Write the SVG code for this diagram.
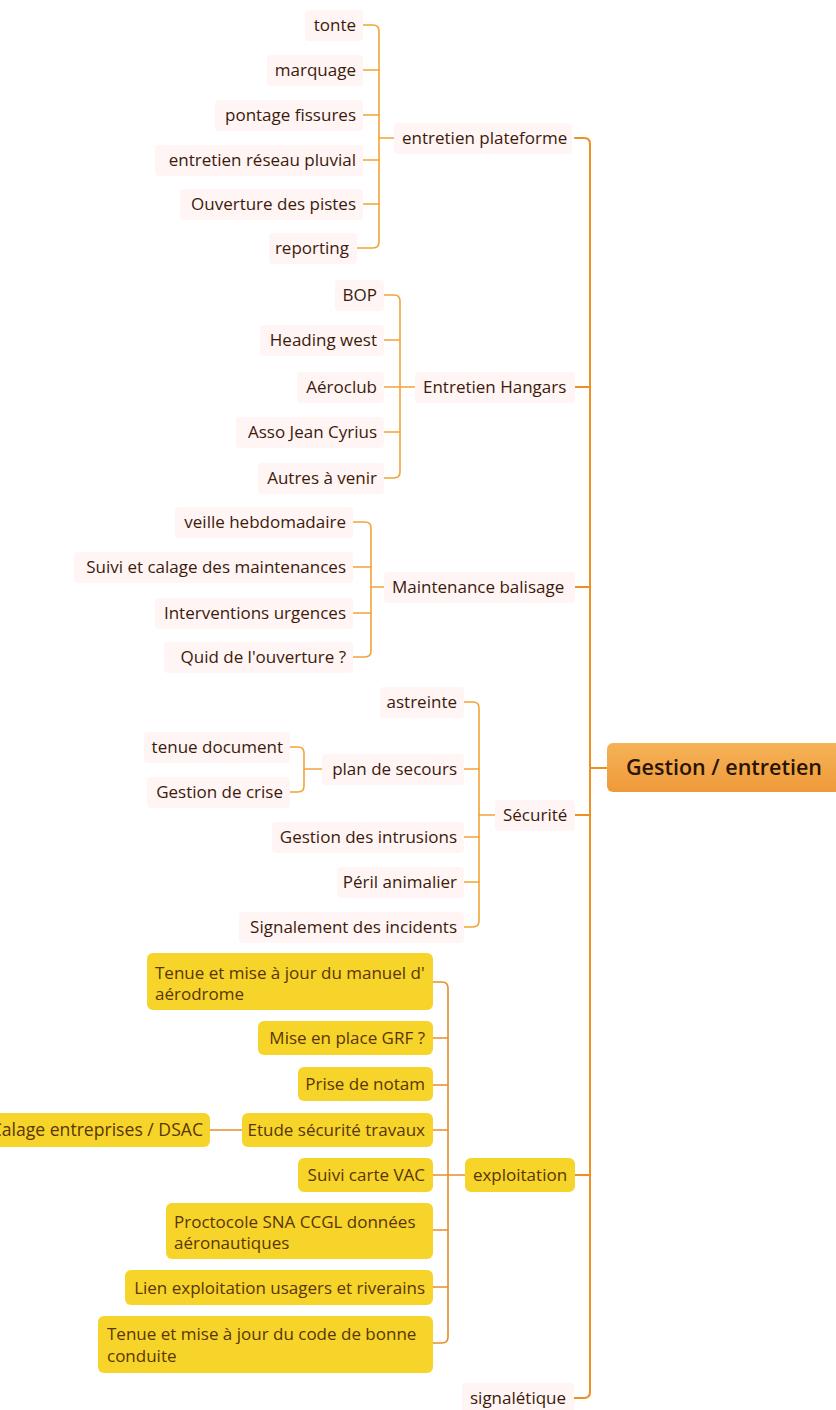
<svg xmlns="http://www.w3.org/2000/svg" width="836" height="1410" viewBox="0 0 836 1410">
<defs>
<linearGradient id="rootg" x1="0" y1="0" x2="0" y2="1">
<stop offset="0" stop-color="#f6b257"/>
<stop offset="1" stop-color="#ee9a3a"/>
</linearGradient>
<style>
.t{font-family:"Open Sans","Noto Sans","Liberation Sans",sans-serif;font-size:17px;fill:#3d1a0c}
.r{text-anchor:end}
.y{font-family:"Open Sans","Noto Sans","Liberation Sans",sans-serif;font-size:17px;fill:#5a3606}
.bg{fill:#fef5f4}
.yb{fill:#f6d42a}
.c{fill:none;stroke:#f2a437;stroke-width:1.6;stroke-linecap:round}
.ce{fill:none;stroke:#e98d2c;stroke-width:1.6;stroke-linecap:round}
.tr{fill:none;stroke:#ef8e22;stroke-width:2;stroke-linecap:round}
.root{font-family:"Open Sans","Noto Sans","Liberation Sans",sans-serif;font-size:21.5px;font-weight:600;fill:#2a1405;text-anchor:middle}
</style>
</defs>
<rect width="836" height="1410" fill="#ffffff"/>

<g id="connectors">
<path class="tr" d="M575,138 H584 Q590,138 590,144 V1392 Q590,1398 584,1398 H573"/>
<path class="tr" d="M574,387 H590 M574,587 H590 M573,815 H590 M575,1175 H590 M590,768 H607"/>
<path class="c" d="M362,25 H373 Q379,25 379,31 V242 Q379,248 373,248 H356"/>
<path class="c" d="M362,70 H379 M362,115 H379 M362,160 H379 M362,204 H379 M379,138 H397"/>
<path class="c" d="M384,295 H394 Q400,295 400,301 V472 Q400,478 394,478 H384"/>
<path class="c" d="M384,340 H400 M384,387 H417 M384,432 H400"/>
<path class="c" d="M352,522 H365 Q371,522 371,528 V651 Q371,657 365,657 H352"/>
<path class="c" d="M352,567 H371 M352,613 H371 M371,587 H387"/>
<path class="c" d="M463,702 H473 Q479,702 479,708 V921 Q479,927 473,927 H463"/>
<path class="c" d="M463,769 H479 M463,837 H479 M463,882 H479 M479,815 H496"/>
<path class="c" d="M289,747 H298 Q304,747 304,753 V786 Q304,792 298,792 H289"/>
<path class="c" d="M304,769 H325"/>
<path class="ce" d="M433,982 H442 Q448,982 448,988 V1337 Q448,1343 442,1343 H433"/>
<path class="ce" d="M433,1038 H448 M433,1085 H448 M433,1130 H448 M433,1175 H465 M433,1230 H448 M433,1287 H448 M210,1130 H242"/>
</g>

<g id="root">
<rect x="607" y="743" width="240" height="49" rx="6" fill="url(#rootg)"/>
<text class="root" x="724" y="775">Gestion / entretien</text>
</g>

<g id="n-entretien-plateforme">
<rect class="bg" x="394" y="123" width="178" height="31" rx="4"/>
<text class="t" x="402" y="144">entretien plateforme</text>
</g>
<g id="n-tonte"><rect class="bg" x="305" y="10" width="58" height="31" rx="4"/><text class="t r" x="356" y="31">tonte</text></g>
<g id="n-marquage"><rect class="bg" x="267" y="55" width="96" height="31" rx="4"/><text class="t r" x="356" y="76">marquage</text></g>
<g id="n-pontage"><rect class="bg" x="215" y="100" width="148" height="31" rx="4"/><text class="t r" x="356" y="121">pontage fissures</text></g>
<g id="n-reseau"><rect class="bg" x="155" y="145" width="208" height="31" rx="4"/><text class="t r" x="356" y="166">entretien réseau pluvial</text></g>
<g id="n-ouverture"><rect class="bg" x="180" y="189" width="183" height="31" rx="4"/><text class="t r" x="356" y="210">Ouverture des pistes</text></g>
<g id="n-reporting"><rect class="bg" x="269" y="233" width="88" height="31" rx="4"/><text class="t r" x="349" y="254">reporting</text></g>

<g id="n-entretien-hangars">
<rect class="bg" x="415" y="372" width="160" height="31" rx="4"/>
<text class="t" x="423" y="393">Entretien Hangars</text>
</g>
<g id="n-bop"><rect class="bg" x="335" y="280" width="49" height="31" rx="4"/><text class="t r" x="377" y="301">BOP</text></g>
<g id="n-heading"><rect class="bg" x="260" y="325" width="124" height="31" rx="4"/><text class="t r" x="377" y="346">Heading west</text></g>
<g id="n-aeroclub"><rect class="bg" x="297" y="372" width="87" height="31" rx="4"/><text class="t r" x="377" y="393">Aéroclub</text></g>
<g id="n-asso"><rect class="bg" x="236" y="417" width="148" height="31" rx="4"/><text class="t r" x="377" y="438">Asso Jean Cyrius</text></g>
<g id="n-autres"><rect class="bg" x="258" y="463" width="126" height="31" rx="4"/><text class="t r" x="377" y="484">Autres à venir</text></g>

<g id="n-maintenance-balisage">
<rect class="bg" x="384" y="572" width="191" height="31" rx="4"/>
<text class="t" x="392" y="593">Maintenance balisage</text>
</g>
<g id="n-veille"><rect class="bg" x="175" y="507" width="178" height="31" rx="4"/><text class="t r" x="346" y="528">veille hebdomadaire</text></g>
<g id="n-suivi-calage"><rect class="bg" x="74" y="552" width="279" height="31" rx="4"/><text class="t r" x="346" y="573">Suivi et calage des maintenances</text></g>
<g id="n-interventions"><rect class="bg" x="155" y="598" width="198" height="31" rx="4"/><text class="t r" x="346" y="619">Interventions urgences</text></g>
<g id="n-quid"><rect class="bg" x="164" y="642" width="189" height="31" rx="4"/><text class="t r" x="346" y="663">Quid de l'ouverture ?</text></g>

<g id="n-securite">
<rect class="bg" x="495" y="800" width="80" height="31" rx="4"/>
<text class="t" x="503" y="821">Sécurité</text>
</g>
<g id="n-astreinte"><rect class="bg" x="380" y="687" width="84" height="31" rx="4"/><text class="t r" x="457" y="708">astreinte</text></g>
<g id="n-plan-secours"><rect class="bg" x="322" y="754" width="142" height="31" rx="4"/><text class="t r" x="457" y="775">plan de secours</text></g>
<g id="n-tenue-document"><rect class="bg" x="144" y="732" width="146" height="31" rx="4"/><text class="t r" x="283" y="753">tenue document</text></g>
<g id="n-gestion-crise"><rect class="bg" x="147" y="777" width="143" height="31" rx="4"/><text class="t r" x="283" y="798">Gestion de crise</text></g>
<g id="n-intrusions"><rect class="bg" x="272" y="822" width="192" height="31" rx="4"/><text class="t r" x="457" y="843">Gestion des intrusions</text></g>
<g id="n-peril"><rect class="bg" x="337" y="867" width="127" height="31" rx="4"/><text class="t r" x="457" y="888">Péril animalier</text></g>
<g id="n-signalement"><rect class="bg" x="239" y="912" width="225" height="31" rx="4"/><text class="t r" x="457" y="933">Signalement des incidents</text></g>

<g id="n-exploitation">
<rect class="yb" x="465" y="1158" width="110" height="34" rx="6"/>
<text class="y" x="520" y="1181" text-anchor="middle">exploitation</text>
</g>
<g id="n-manuel"><rect class="yb" x="147" y="953" width="286" height="57" rx="6"/><text class="y" x="155" y="979">Tenue et mise à jour du manuel d'</text><text class="y" x="155" y="1000">aérodrome</text></g>
<g id="n-grf"><rect class="yb" x="258" y="1021" width="175" height="34" rx="6"/><text class="y r" x="425" y="1044">Mise en place GRF ?</text></g>
<g id="n-notam"><rect class="yb" x="298" y="1067" width="135" height="34" rx="6"/><text class="y r" x="425" y="1090">Prise de notam</text></g>
<g id="n-etude"><rect class="yb" x="242" y="1113" width="191" height="34" rx="6"/><text class="y r" x="425" y="1136">Etude sécurité travaux</text></g>
<g id="n-calage"><rect class="yb" x="-10" y="1113" width="220" height="34" rx="6"/><text class="y r" x="203" y="1136" style="font-size:17.6px">Calage entreprises / DSAC</text></g>
<g id="n-vac"><rect class="yb" x="298" y="1158" width="135" height="34" rx="6"/><text class="y r" x="425" y="1181">Suivi carte VAC</text></g>
<g id="n-proctocole"><rect class="yb" x="166" y="1203" width="267" height="56" rx="6"/><text class="y" x="174" y="1228">Proctocole SNA CCGL données</text><text class="y" x="174" y="1249">aéronautiques</text></g>
<g id="n-lien"><rect class="yb" x="125" y="1270" width="308" height="35" rx="6"/><text class="y r" x="425" y="1294">Lien exploitation usagers et riverains</text></g>
<g id="n-code"><rect class="yb" x="98" y="1316" width="335" height="57" rx="6"/><text class="y" x="107" y="1340">Tenue et mise à jour du code de bonne</text><text class="y" x="107" y="1362">conduite</text></g>

<g id="n-signaletique">
<rect class="bg" x="462" y="1383" width="112" height="31" rx="4"/>
<text class="t" x="470" y="1404">signalétique</text>
</g>
</svg>
